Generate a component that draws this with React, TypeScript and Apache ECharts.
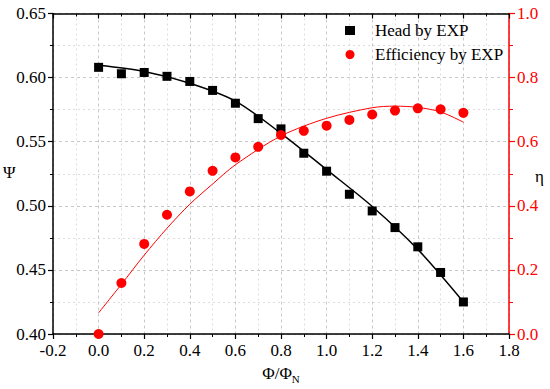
import React, { useEffect, useRef } from "react";
import * as echarts from "echarts";

const flowRatio = [0, 0.1, 0.2, 0.3, 0.4, 0.5, 0.6, 0.7, 0.8, 0.9, 1.0, 1.1, 1.2, 1.3, 1.4, 1.5, 1.6];
const headExp = [0.608, 0.603, 0.604, 0.601, 0.597, 0.59, 0.58, 0.568, 0.56, 0.541, 0.527, 0.509, 0.496, 0.483, 0.468, 0.448, 0.425];
const effExp = [0.0, 0.159, 0.281, 0.372, 0.445, 0.509, 0.551, 0.584, 0.621, 0.634, 0.65, 0.668, 0.685, 0.697, 0.704, 0.701, 0.69];

const headFitX = [0, 0.2, 0.4, 0.6, 0.8, 1.0, 1.2, 1.4, 1.6];
const headFitY = [0.6096, 0.6048, 0.5956, 0.5817, 0.5565, 0.5282, 0.4995, 0.466, 0.425];
const effFitX = [0, 0.1, 0.2, 0.3, 0.4, 0.5, 0.6, 0.8, 1.0, 1.2, 1.3, 1.4, 1.5, 1.6];
const effFitY = [0.066, 0.155, 0.246, 0.33, 0.405, 0.468, 0.528, 0.618, 0.673, 0.706, 0.711, 0.707, 0.693, 0.661];

const FONT = "'Liberation Serif', 'DejaVu Serif', serif";

export default function App() {
  const ref = useRef<HTMLDivElement>(null);
  useEffect(() => {
    if (!ref.current) return;
    const chart = echarts.init(ref.current, undefined, { renderer: "svg" });
    const pair = (xs: number[], ys: number[]) => xs.map((x, i) => [x, ys[i]]);
    chart.setOption({
      animation: false,
      backgroundColor: "#ffffff",
      textStyle: { fontFamily: FONT },
      grid: { left: 53, right: 41, top: 13.5, bottom: 55, containLabel: false },
      legend: {
        orient: "vertical",
        left: 345,
        top: 22,
        padding: 0,
        itemGap: 7,
        itemWidth: 10,
        itemHeight: 9,
        textStyle: { fontFamily: FONT, fontSize: 17, color: "#000", padding: [0, 0, 0, 15] },
        data: [
          { name: "Head by EXP", icon: "rect", itemStyle: { color: "#000" } },
          { name: "Efficiency by EXP", icon: "circle", itemStyle: { color: "#ff0000" } },
        ],
      },
      xAxis: [
        {
          type: "value",
          min: -0.2,
          max: 1.8,
          interval: 0.2,
          position: "bottom",
          name: "Φ/Φ{sub|N}",
          nameLocation: "middle",
          nameGap: 29,
          nameTextStyle: {
            fontFamily: FONT,
            fontSize: 17,
            color: "#000",
            rich: { sub: { fontFamily: FONT, fontSize: 11, color: "#000", verticalAlign: "bottom", padding: [10, 0, 0, 0] } },
          },
          axisLine: { onZero: false, lineStyle: { color: "#000", width: 1.5 } },
          axisTick: { inside: false, length: 5, lineStyle: { color: "#000", width: 1.2 } },
          minorTick: { show: true, splitNumber: 2, length: 3, lineStyle: { color: "#000", width: 1 } },
          axisLabel: {
            fontFamily: FONT,
            fontSize: 17,
            color: "#000",
            margin: 8,
            formatter: (v: number) => v.toFixed(1),
          },
          splitLine: { show: true, lineStyle: { color: "#c8c8c8", type: [3, 3], width: 1 } },
          minorSplitLine: { show: true, lineStyle: { color: "#dddddd", type: [2, 3], width: 1 } },
        },
        {
          type: "value",
          min: -0.2,
          max: 1.8,
          interval: 0.2,
          position: "top",
          axisLine: { onZero: false, lineStyle: { color: "#000", width: 1.5 } },
          axisTick: { inside: true, length: 5, lineStyle: { color: "#000", width: 1.2 } },
          minorTick: { show: true, splitNumber: 2, length: 3, lineStyle: { color: "#000", width: 1 } },
          axisLabel: { show: false },
          splitLine: { show: false },
        },
      ],
      yAxis: [
        {
          type: "value",
          min: 0.4,
          max: 0.65,
          interval: 0.05,
          position: "left",
          axisLine: { show: true, onZero: false, lineStyle: { color: "#000", width: 1.5 } },
          axisTick: { show: true, inside: false, length: 5, lineStyle: { color: "#000", width: 1.2 } },
          minorTick: { show: true, splitNumber: 2, length: 3, lineStyle: { color: "#000", width: 1 } },
          axisLabel: {
            fontFamily: FONT,
            fontSize: 17,
            color: "#000",
            margin: 7,
            formatter: (v: number) => v.toFixed(2),
          },
          splitLine: { show: true, lineStyle: { color: "#c8c8c8", type: [3, 3], width: 1 } },
          minorSplitLine: { show: true, lineStyle: { color: "#dddddd", type: [2, 3], width: 1 } },
        },
        {
          type: "value",
          min: 0,
          max: 1.0,
          interval: 0.2,
          position: "right",
          axisLine: { show: true, onZero: false, lineStyle: { color: "#ff0000", width: 1.5 } },
          axisTick: { show: true, inside: false, length: 6, lineStyle: { color: "#ff0000", width: 1.2 } },
          minorTick: { show: true, splitNumber: 2, length: 4, lineStyle: { color: "#ff0000", width: 1 } },
          axisLabel: {
            fontFamily: FONT,
            fontSize: 17,
            color: "#ff0000",
            margin: 8,
            formatter: (v: number) => v.toFixed(1),
          },
          splitLine: { show: false },
        },
      ],
      graphic: [
        { type: "text", left: 3, top: 164, style: { text: "Ψ", fontFamily: FONT, fontSize: 17, fill: "#000" } },
        { type: "text", left: 535, top: 168, style: { text: "η", fontFamily: FONT, fontSize: 17, fill: "#000" } },
      ],
      series: [
        {
          name: "Head fit",
          type: "line",
          xAxisIndex: 0,
          yAxisIndex: 0,
          smooth: 0.3,
          showSymbol: false,
          symbol: "none",
          lineStyle: { color: "#000", width: 1.5 },
          data: pair(headFitX, headFitY),
          z: 3,
        },
        {
          name: "Efficiency fit",
          type: "line",
          xAxisIndex: 0,
          yAxisIndex: 1,
          smooth: 0.3,
          showSymbol: false,
          symbol: "none",
          lineStyle: { color: "#ff0000", width: 1 },
          data: pair(effFitX, effFitY),
          z: 3,
        },
        {
          name: "Head by EXP",
          type: "scatter",
          xAxisIndex: 0,
          yAxisIndex: 0,
          symbol: "rect",
          symbolSize: 9,
          itemStyle: { color: "#000", opacity: 1 },
          data: pair(flowRatio, headExp),
          z: 4,
        },
        {
          name: "Efficiency by EXP",
          type: "scatter",
          xAxisIndex: 0,
          yAxisIndex: 1,
          symbol: "circle",
          symbolSize: 10,
          itemStyle: { color: "#ff0000", opacity: 1 },
          data: pair(flowRatio, effExp),
          z: 4,
        },
      ],
    });
    return () => chart.dispose();
  }, []);
  return <div ref={ref} style={{ width: 550, height: 389, position: "absolute", left: 0, top: 0 }} />;
}
